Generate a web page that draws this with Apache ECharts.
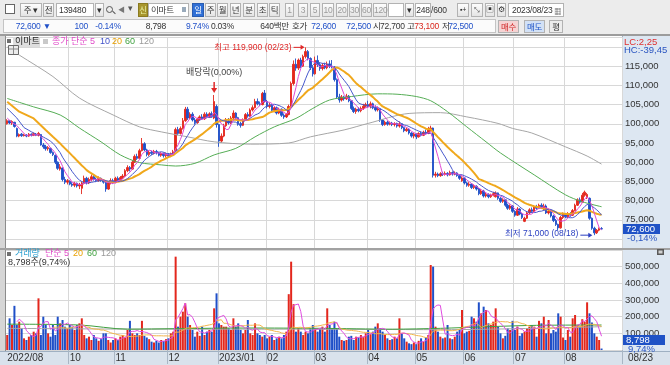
<!DOCTYPE html>
<html><head><meta charset="utf-8">
<script src="https://cdn.jsdelivr.net/npm/echarts@6/dist/echarts.min.js"></script>
<style>
body{margin:0;width:670px;height:365px;overflow:hidden;background:#ececec;position:relative;
 font-family:"Liberation Sans","Noto Sans CJK KR",sans-serif;}
.bg{position:absolute;}
#chart{position:absolute;left:0;top:0;width:670px;height:365px;z-index:1;}
#tb{position:absolute;left:0;top:0;width:670px;height:34px;z-index:2;font-size:8.5px;color:#333;letter-spacing:-0.2px;}
.b{position:absolute;top:3px;height:14px;box-sizing:border-box;border:1px solid #b2b2b2;
 background:linear-gradient(#fdfdfd,#e4e4e4);text-align:center;line-height:12px;white-space:nowrap;}
.w{background:#fff;}
.g{color:#9a9a9a;}
.t{position:absolute;top:20px;line-height:13px;white-space:nowrap;}
.r{text-align:right;}
.blue{color:#2050c8;}
.red{color:#d9261c;}
</style></head>
<body>
<div class="bg" style="left:0;top:34px;width:670px;height:2px;background:#9c9c9c"></div>
<div class="bg" style="left:0;top:36px;width:6px;height:315px;background:#d6d6d6;border-right:1px solid #8c8c8c;box-sizing:border-box"></div>
<div class="bg" style="left:6px;top:36px;width:616px;height:212px;background:#fff"></div>
<div class="bg" style="left:0;top:248px;width:670px;height:2px;background:#a2a2a2"></div>
<div class="bg" style="left:6px;top:250px;width:616px;height:101px;background:#fff"></div>
<div class="bg" style="left:622px;top:36px;width:48px;height:315px;background:#dde7f2;border-left:1px solid #9fb0c2;box-sizing:border-box"></div>
<div class="bg" style="left:622px;top:248px;width:48px;height:2px;background:#a2a2a2"></div>
<div class="bg" style="left:0;top:351px;width:670px;height:14px;background:#d9e2ec;border-top:1px solid #9fb0c2;box-sizing:border-box"></div>
<div id="chart"></div>
<div id="tb">
 <div class="b w" style="left:5px;top:4px;width:10px;height:10px;border-color:#666"></div>
 <div class="b" style="left:20px;width:22px">주 ▾</div>
 <div class="b" style="left:43px;width:11px">전</div>
 <div class="b w" style="left:56px;width:38px;text-align:left;padding-left:2px">139480</div>
 <div class="b" style="left:95px;width:9px">▾</div>
 <div style="position:absolute;left:106px;top:6px;width:5px;height:5px;border:1px solid #555;border-radius:50%"></div>
 <div style="position:absolute;left:112px;top:12px;width:4px;height:1px;background:#555;transform:rotate(45deg)"></div>
 <div style="position:absolute;left:118px;top:4px;color:#777;font-size:7px">◀</div>
 <div style="position:absolute;left:128px;top:3px;color:#555">▾</div>
 <div class="b" style="left:138px;width:10px;background:#a8962e;color:#e8f0a0;border-color:#8a7a20">신</div>
 <div class="b w" style="left:148px;width:41px;text-align:left;padding-left:2px">이마트<span style="position:absolute;right:2px;top:3px;width:4px;height:5px;background:#9ab"></span></div>
 <div class="b" style="left:192px;width:12px;background:#2f6fd6;color:#fff;border-color:#2a5cb0">일</div>
 <div class="b" style="left:205px;width:11px">주</div>
 <div class="b" style="left:217px;width:11px">월</div>
 <div class="b" style="left:230px;width:11px">년</div>
 <div class="b" style="left:243px;width:12px">분</div>
 <div class="b" style="left:257px;width:11px">초</div>
 <div class="b" style="left:269px;width:11px">틱</div>
 <div class="b g" style="left:285px;width:9px">1</div>
 <div class="b g" style="left:298px;width:10px">3</div>
 <div class="b g" style="left:310px;width:10px">5</div>
 <div class="b g" style="left:322px;width:12px">10</div>
 <div class="b g" style="left:336px;width:12px">20</div>
 <div class="b g" style="left:349px;width:11px">30</div>
 <div class="b g" style="left:361px;width:11px">60</div>
 <div class="b g" style="left:373px;width:14px">120</div>
 <div class="b w" style="left:388px;width:16px"></div>
 <div class="b" style="left:405px;width:9px">▾</div>
 <div class="b w" style="left:415px;width:16px">248</div>
 <div style="position:absolute;left:431px;top:3px;line-height:14px">/600</div>
 <div class="b" style="left:457px;width:12px;font-size:7px">▪+</div>
 <div class="b" style="left:471px;width:12px;font-size:7px">⤡</div>
 <div class="b" style="left:485px;width:10px;font-size:8px">▣</div>
 <div class="b" style="left:497px;width:9px;font-size:8px">⚙</div>
 <div class="b w" style="left:508px;width:56px;text-align:left;padding-left:3px">2023/08/23<span style="position:absolute;right:2px;top:2px;font-size:7px">▦</span></div>

 <div style="position:absolute;left:3px;top:19px;width:493px;height:14px;background:#fbfbfb;border:1px solid #c4c4c4;box-sizing:border-box"></div>
 <div class="t r blue" style="left:14px;width:37px">72,600 ▼</div>
 <div class="t r blue" style="left:70px;width:18px">100</div>
 <div class="t r blue" style="left:90px;width:31px">-0.14%</div>
 <div class="t r" style="left:138px;width:28px">8,798</div>
 <div class="t r blue" style="left:183px;width:26px">9.74%</div>
 <div class="t r" style="left:208px;width:26px">0.03%</div>
 <div class="t r" style="left:254px;width:35px">640백만</div>
 <div class="t" style="left:292px">호가</div>
 <div class="t r blue" style="left:308px;width:28px">72,600</div>
 <div class="t r blue" style="left:343px;width:28px">72,500</div>
 <div class="t" style="left:373px">시</div>
 <div class="t r" style="left:380px;width:23px">72,700</div>
 <div class="t" style="left:407px">고</div>
 <div class="t r red" style="left:414px;width:25px">73,100</div>
 <div class="t" style="left:442px">저</div>
 <div class="t r blue" style="left:448px;width:25px">72,500</div>
 <div class="b" style="left:498px;top:20px;height:13px;width:21px;background:#f6d3d3;color:#d02a2a">매수</div>
 <div class="b" style="left:524px;top:20px;height:13px;width:21px;background:#d2e1f6;color:#2358c8">매도</div>
 <div class="b" style="left:549px;top:20px;height:13px;width:14px;background:#ededed">평</div>
</div>
<script>
// ---------- data ----------
const firstDay = '2022-08-24', lastDay = '2023-08-23';
const holidays = ['2022-09-09','2022-09-12','2022-10-03','2022-10-10','2022-12-30','2023-01-23','2023-01-24',
  '2023-03-01','2023-05-01','2023-05-05','2023-05-29','2023-06-06','2023-08-15'];

const opens = [100000,100800,100200,100400,98800,96800,97300,96900,97000,96800,
97300,97000,97300,97000,97200,94500,94000,93500,93600,92500,
91800,90000,88200,88500,85500,84800,85000,84300,84000,84500,
83800,83200,84500,85800,84600,85500,86200,85600,85200,85800,
85300,84800,83000,84600,85200,84700,85800,85300,86000,86400,
87800,88600,88200,90000,91500,91000,93000,94800,93200,92000,
92600,92300,92800,92400,91800,92300,91700,92100,91600,92200,
93000,98500,97500,98800,100800,103800,101500,102500,101000,100300,
101200,101800,101300,102500,101800,102600,101500,104500,99800,95500,
96800,99500,100800,100200,101500,102800,101600,100000,99600,101000,
102400,102000,103600,104200,105800,105200,105000,108000,105800,104500,
104800,103500,104200,102800,103800,102200,101800,102400,104500,110500,
115500,114500,116600,115000,117500,118800,117000,114600,113000,116500,
115400,114400,115200,114600,115600,115000,114800,111500,107000,106200,
107000,106500,107200,106000,104000,103200,103800,103400,104000,104600,
105000,104600,105200,104200,103600,103900,101000,99800,100400,99900,
100200,99800,100100,99400,100000,99000,98200,98600,97600,96800,
97300,96600,97500,97000,97800,97500,98600,98900,86600,86900,
86500,87000,86800,87100,86700,87300,86900,87200,86500,85200,
85900,84600,84000,84300,83400,83700,83000,81800,82500,81200,
81600,81000,81400,81000,82000,80600,79800,80200,78800,78000,
78600,77200,76200,77800,76500,74600,75400,76800,77600,77200,
78400,78000,78800,77600,78600,76800,77200,76000,74800,73800,
72900,75600,76400,75800,76600,76200,77400,78800,80200,79600,
81400,80800,80600,75400,72800,71600,72300,72700];

const closes = [100800,100200,100600,99300,96800,97200,96900,97100,96800,97300,
97000,97400,97000,97500,94500,94000,93500,93800,92500,92000,
90000,88400,88800,85500,84800,85200,84300,84000,84500,83800,
84200,84600,85800,84600,85500,86200,85600,85200,85800,85300,
84800,83000,84600,85200,84700,85800,85300,86000,86400,87800,
88600,88200,90000,91500,91000,93000,94800,93200,92000,92600,
92300,92800,92400,91800,92300,91700,92100,91600,92200,92700,
98500,97500,98800,100800,103800,101500,102500,101000,100300,101200,
101800,101300,102500,101800,102600,102000,105800,99800,95500,96800,
99500,100800,100200,101500,102800,101600,100000,99600,101000,102400,
102000,103600,104200,105800,105200,105000,107900,105800,104500,104800,
103500,104200,102800,103800,102200,101800,102400,104500,110500,115500,
114500,116600,115000,117500,118800,117000,114600,113000,116500,115400,
114400,115200,114600,115600,115000,114800,111500,107000,106200,107000,
106500,107200,106000,104000,103200,103800,103400,104000,104600,105000,
104600,105200,104200,103600,103900,101000,99800,100400,99900,100200,
99800,100100,99400,100000,99000,98200,98600,97600,96800,97300,
96600,97500,97000,97800,97500,98600,98900,86600,86900,86500,
87000,86800,87100,86700,87300,86900,87200,86500,85800,85900,
84600,84000,84300,83400,83700,83000,81800,82500,81200,81600,
81000,81400,81800,82000,80600,79800,80200,78800,78000,78600,
77200,76200,77800,76500,75600,75400,76800,77600,77200,78400,
78000,78800,78200,78600,76800,77200,76000,74800,73800,72900,
75600,76400,75800,76600,76200,77400,78800,80200,79600,81400,
82200,81600,75400,72800,71600,72300,72700,72600];

const highs = [101200,101000,100900,100500,99000,97500,97600,97400,97300,97600,
97500,97700,97600,97900,97300,95000,94500,94200,93800,92800,
92000,90200,89500,88600,86200,85600,85300,84800,84900,84700,
84600,85000,86500,86200,86000,86800,86600,86000,86300,86000,
85600,85000,85000,85800,85700,86200,86300,86400,86900,88200,
89200,89000,90500,92000,92200,93500,96300,95200,93500,93000,
93000,93200,93200,92700,92600,92500,92500,92400,92500,93200,
99000,99200,99300,101500,104400,104400,103000,103000,101500,101600,
102200,102500,103000,103000,103000,103200,107500,105000,100000,97500,
100000,101500,101500,102000,103500,103000,101800,100500,101400,102800,
103000,104000,104800,106500,106600,105800,108300,108800,106200,105500,
105000,104600,104500,104200,104000,102700,102800,105000,111000,116500,
117000,117000,117200,118000,119900,119200,117300,115000,117500,117800,
116000,115800,115900,116200,116500,116600,115000,111800,107800,107500,
107300,107800,107500,106200,104500,104200,104300,104500,105200,105500,
106000,105800,105500,104800,104500,104000,101200,100800,100800,100600,
100500,100400,100300,100600,100100,99200,99000,98800,97800,97600,
97500,97800,98000,98200,98500,99200,99500,99000,87500,87300,
87400,87500,87600,87400,87800,87600,87600,87400,86700,86300,
86000,84900,84800,84500,84200,84000,83300,83000,82800,82000,
81900,81800,82300,82400,82100,80900,80600,80300,79200,79000,
78800,77500,78300,78000,76800,75800,77200,78000,78200,78800,
78900,79200,79300,79200,79000,77600,77400,76300,75200,74000,
76000,76900,76800,77000,77000,77800,79200,80600,80800,82000,
82600,82000,80800,75600,73200,72600,73000,73100];

const lows = [99800,99900,99700,99000,96500,96500,96600,96700,96500,96600,
96700,96800,96800,96700,94300,93500,93000,93000,92200,91600,
89500,88000,87800,85000,84300,84200,84000,83600,83500,83400,
83000,81700,84200,84200,84300,85000,85200,84800,84900,84900,
84400,82300,82800,84200,84300,84500,85000,85000,85600,86200,
87400,87600,88000,89800,90600,90800,92800,92900,91500,91600,
91900,92000,92000,91500,91400,91200,91200,91200,91300,91900,
92800,97000,97200,98500,100500,101000,101200,100600,99800,100000,
100800,101000,101000,101400,101500,101600,101200,99000,94000,95000,
96500,99200,99800,99900,101200,101200,99500,99000,99400,100800,
101600,101800,103200,104000,104800,104600,104800,105500,104000,104000,
103000,103000,102400,102500,101800,101300,101500,102200,104200,110000,
113800,114000,114500,114800,117000,116500,114000,112300,112800,114800,
113800,113900,114200,114200,114500,114400,111000,106500,105500,105800,
106000,106200,105600,103600,102800,102600,103000,103000,103600,104200,
104200,104000,103800,103200,103200,100500,99400,99500,99500,99600,
99400,99300,99000,99000,98600,97800,97900,97200,96400,96200,
96000,96400,96700,96800,97200,97300,98000,86000,86000,86100,
86200,86400,86500,86300,86500,86500,86600,86200,85400,84900,
84200,83600,83600,83000,83000,82600,81400,81500,80800,80800,
80600,80700,81100,80800,80200,79400,79400,78400,77600,77600,
76800,75800,76000,76200,75200,74400,75200,76500,76800,77000,
77600,77800,77800,77400,76500,76400,75600,74400,73400,72300,
72700,75200,75400,75500,75800,76000,77200,78600,79200,79400,
81000,80400,75000,72400,71000,71300,72000,72500];

const volumes = [90000,190000,150000,265000,150000,170000,130000,70000,60000,80000,
90000,110000,100000,310000,90000,200000,150000,100000,80000,150000,
90000,200000,160000,180000,140000,130000,150000,140000,120000,150000,
160000,190000,90000,70000,80000,60000,90000,70000,55000,65000,
100000,100000,60000,45000,60000,70000,60000,80000,90000,75000,
120000,175000,100000,90000,100000,90000,175000,85000,75000,65000,
50000,45000,55000,45000,60000,55000,65000,70000,100000,110000,
560000,140000,200000,230000,280000,200000,150000,120000,80000,110000,
85000,140000,90000,110000,120000,110000,250000,340000,160000,150000,
140000,140000,130000,120000,190000,140000,160000,120000,100000,120000,
180000,100000,90000,160000,100000,90000,80000,90000,70000,80000,
90000,60000,70000,80000,70000,90000,110000,335000,530000,275000,
110000,130000,110000,90000,110000,100000,130000,150000,130000,110000,
130000,140000,110000,250000,150000,130000,170000,130000,80000,60000,
55000,60000,80000,85000,60000,80000,75000,90000,80000,100000,
120000,95000,110000,140000,160000,130000,110000,90000,70000,60000,
65000,80000,70000,190000,100000,70000,50000,40000,35000,45000,
35000,55000,70000,50000,75000,90000,510000,500000,140000,110000,
80000,70000,75000,150000,70000,65000,80000,110000,120000,240000,
100000,110000,115000,200000,190000,170000,286000,220000,260000,240000,
160000,150000,170000,250000,140000,100000,70000,85000,130000,120000,
175000,120000,140000,85000,100000,110000,130000,140000,150000,140000,
80000,175000,160000,200000,100000,180000,100000,120000,110000,220000,
200000,75000,60000,120000,80000,190000,210000,150000,140000,185000,
170000,286000,220000,165000,100000,80000,60000,8798];

// moving averages read from the picture where the chart's own history is not shown: [bar index, value]
const ma5Lead = [[0,101500],[2,100300]];
const ma10Lead = [[0,104000],[4,101500],[7,99000]];
const ma20Lead = [[0,105750],[5,103150],[11,101400],[16,98400]];
const ma60Read = [[0,106600],[11,104400],[22,102300],[30,98900],[39,95300],[47,91900],[55,89900],[64,89300],[70,89000],
 [78,89700],[86,91900],[95,93600],[103,96600],[111,99200],[120,101400],[127,104000],[134,106200],[143,107100],[154,107800],
 [162,107700],[170,107100],[176,106000],[183,103150],[191,99200],[199,95300],[205,92400],[219,86700],[232,81500],[239,79700],[247,78400]];
const ma120Read = [[0,120000],[5,117900],[19,112300],[30,106700],[44,102300],[55,99200],[64,97900],[75,96600],[86,95300],
 [101,94700],[117,95000],[126,96600],[140,98400],[150,100100],[167,102700],[180,102900],[191,101800],[204,100100],
 [210,98800],[218,97600],[232,94000],[241,91600],[247,89500]];
const volMa60Read = [[0,155000],[30,150000],[50,125000],[70,128000],[100,132000],[130,130000],[160,125000],[180,130000],[200,140000],[220,148000],[247,150000]];
const volMa120Read = [[0,130000],[60,125000],[120,125000],[180,122000],[220,130000],[247,140000]];
const priceTickStep = 5000, volTickStep = 100000;

// ---------- derived ----------
const dates = [];
for (let d = new Date(firstDay + 'T00:00:00Z'); d <= new Date(lastDay + 'T00:00:00Z'); d.setUTCDate(d.getUTCDate() + 1)) {
  const s = d.toISOString().slice(0, 10), wd = d.getUTCDay();
  if (wd === 0 || wd === 6 || holidays.includes(s)) continue;
  dates.push(s);
}
const N = closes.length;
const NBAND = 256;
function sma(arr, n, lead) {
  const out = lead.slice();
  for (let i = n - 1; i < arr.length; i++) {
    let s = 0; for (let k = i - n + 1; k <= i; k++) s += arr[k];
    out.push([i, Math.round(s / n)]);
  }
  return out;
}
const ma5 = sma(closes, 5, ma5Lead), ma10 = sma(closes, 10, ma10Lead), ma20 = sma(closes, 20, ma20Lead);
const vma5 = sma(volumes, 5, []), vma20 = sma(volumes, 20, []);

const monthStart = {};
let lastShown = -100;
for (let i = 0; i < dates.length; i++) {
  if (i === 0 || dates[i].slice(5, 7) !== dates[i - 1].slice(5, 7)) {
    if (i - lastShown >= 12) { monthStart[i] = true; lastShown = i; }
  }
}
const gridFn = (i) => !!monthStart[i] && i > 0;
const labelFn = (i) => !!monthStart[i];
const fmtDate = (v, i) => {
  if (!v) return '';
  const y = v.slice(0, 4), m = v.slice(5, 7);
  return (i === 0 || m === '01') ? y + '/' + m : m;
};
const fmtNum = (v) => Math.round(v).toLocaleString('en-US');

const UP = '#e3271d', DN = '#1f4fc8';
const FONT = '"Liberation Sans","Noto Sans CJK KR",sans-serif';
const AXF = '"Liberation Sans","Noto Sans CJK KR",sans-serif';

function lineS(data, color, width, xi, yi, smooth) {
  return { type: 'line', xAxisIndex: xi, yAxisIndex: yi, data: data, showSymbol: false, symbol: 'none',
    smooth: smooth ? 0.3 : false, lineStyle: { color: color, width: width }, z: 3, silent: true };
}

const chart = echarts.init(document.getElementById('chart'), null, { renderer: 'canvas', width: 670, height: 365 });
const splitStyle = { color: '#d8d8d8', width: 1 };
const option = {
  animation: false,
  backgroundColor: 'transparent',
  grid: [
    { left: 6, top: 37, width: 616, height: 211 },
    { left: 6, top: 37, width: 616, height: 202 },
    { left: 6, top: 250, width: 616, height: 100 }
  ],
  xAxis: [
    { type: 'category', gridIndex: 0, data: dates, max: NBAND - 1, axisLine: { show: false }, axisTick: { show: false },
      axisLabel: { show: false }, splitLine: { show: true, interval: gridFn, lineStyle: splitStyle } },
    { type: 'category', gridIndex: 1, data: dates, max: NBAND - 1, axisLine: { show: false }, axisTick: { show: false },
      axisLabel: { show: false }, splitLine: { show: false } },
    { type: 'category', gridIndex: 2, data: dates, max: NBAND - 1, axisLine: { show: false },
      axisTick: { show: true, interval: gridFn, length: 14, lineStyle: { color: '#a9b6c4' } },
      axisLabel: { show: true, interval: labelFn, formatter: fmtDate, align: 'left', margin: 3, color: '#333',
        fontSize: 10, fontFamily: AXF },
      splitLine: { show: true, interval: gridFn, lineStyle: splitStyle } }
  ],
  yAxis: [
    { type: 'value', gridIndex: 0, min: 0, max: 1, show: false, splitLine: { show: false } },
    { type: 'value', gridIndex: 1, position: 'right', min: 70000, max: 122600, interval: priceTickStep,
      axisLine: { show: false }, axisTick: { show: false },
      axisLabel: { showMinLabel: false, showMaxLabel: false, formatter: (v) => v >= 120000 ? '' : fmtNum(v),
        color: '#333', fontSize: 9.5, fontFamily: AXF, margin: 3 },
      splitLine: { show: true, lineStyle: splitStyle } },
    { type: 'value', gridIndex: 2, position: 'right', min: 0, max: 600000, interval: volTickStep,
      axisLine: { show: false }, axisTick: { show: false },
      axisLabel: { showMinLabel: false, showMaxLabel: false, formatter: fmtNum, color: '#333', fontSize: 9.5, fontFamily: AXF, margin: 3 },
      splitLine: { show: true, lineStyle: splitStyle } }
  ],
  series: [
    { type: 'candlestick', xAxisIndex: 1, yAxisIndex: 1, barWidth: 2,
      data: opens.map((o, i) => [o, closes[i], lows[i], highs[i]]),
      itemStyle: { color: UP, color0: DN, borderColor: UP, borderColor0: DN, borderWidth: 0.9 }, z: 2 },
    lineS(ma120Read, '#a6a6a6', 1, 1, 1, true),
    lineS(ma60Read, '#55ad55', 1, 1, 1, true),
    lineS(ma20, '#f0a81c', 2, 1, 1, false),
    lineS(ma10, '#4658cc', 1, 1, 1, false),
    lineS(ma5, '#df4ad4', 1, 1, 1, false),
    { type: 'bar', xAxisIndex: 2, yAxisIndex: 2, barWidth: 2,
      data: volumes.map((v, i) => ({ value: v, itemStyle: { color: closes[i] >= opens[i] ? UP : DN } })), z: 2 },
    lineS(volMa120Read, '#a6a6a6', 1, 2, 2, true),
    lineS(volMa60Read, '#3f9f3f', 1, 2, 2, true),
    lineS(vma20, '#f2b54a', 1, 2, 2, false),
    lineS(vma5, '#e04ce0', 1, 2, 2, false)
  ]
};
chart.setOption(option);

// ---------- annotations (positions from the chart's own scales) ----------
function txt(x, y, text, color, size, align, fam) {
  return { type: 'text', x: x, y: y, z: 20, silent: true,
    style: { text: text, fill: color, font: (size || 9) + 'px ' + (fam || FONT),
      align: align || 'left', textAlign: align || 'left', verticalAlign: 'middle', textVerticalAlign: 'middle' } };
}
function rect(x, y, w, h, fill, stroke) {
  return { type: 'rect', z: 19, silent: true, shape: { x: x, y: y, width: w, height: h },
    style: { fill: fill, stroke: stroke || null, lineWidth: stroke ? 1 : 0 } };
}
function seg(x1, y1, x2, y2, color, w) {
  return { type: 'line', z: 20, silent: true, shape: { x1: x1, y1: y1, x2: x2, y2: y2 }, style: { stroke: color, lineWidth: w || 1 } };
}
function tri(pts, color) {
  return { type: 'polygon', z: 20, silent: true, shape: { points: pts }, style: { fill: color } };
}
const g = [];
let iMax = 0, iMin = 0;
for (let i = 0; i < N; i++) { if (highs[i] > highs[iMax]) iMax = i; if (lows[i] < lows[iMin]) iMin = i; }
const mmdd = (s) => s.slice(5, 7) + '/' + s.slice(8, 10);
const pMax = chart.convertToPixel({ gridIndex: 1 }, [iMax, highs[iMax]]);
g.push(txt(pMax[0] - 14, pMax[1], '최고 ' + fmtNum(highs[iMax]) + ' (' + mmdd(dates[iMax]) + ')', '#e02828', 8.5, 'right'));
g.push(seg(pMax[0] - 12, pMax[1], pMax[0] - 4, pMax[1], '#e02828', 1));
g.push(tri([[pMax[0] - 5, pMax[1] - 2.5], [pMax[0] - 5, pMax[1] + 2.5], [pMax[0] - 1, pMax[1]]], '#e02828'));

const pMin = chart.convertToPixel({ gridIndex: 1 }, [iMin, lows[iMin]]);
g.push(txt(pMin[0] - 16, pMin[1] - 2, '최저 ' + fmtNum(lows[iMin]) + ' (' + mmdd(dates[iMin]) + ')', '#2a3fc0', 8.5, 'right'));
g.push(seg(pMin[0] - 14, pMin[1], pMin[0] - 5, pMin[1], '#2a3fc0', 1));
g.push(tri([[pMin[0] - 6, pMin[1] - 2.5], [pMin[0] - 6, pMin[1] + 2.5], [pMin[0] - 2, pMin[1]]], '#2a3fc0'));

const iDiv = dates.indexOf('2022-12-28');
const pDiv = chart.convertToPixel({ gridIndex: 1 }, [iDiv, highs[iDiv]]);
g.push(txt(pDiv[0], pDiv[1] - 22, '배당락(0,00%)', '#444', 9, 'center'));
g.push(seg(pDiv[0], pDiv[1] - 13, pDiv[0], pDiv[1] - 6, '#e02828', 1.5));
g.push(tri([[pDiv[0] - 3, pDiv[1] - 7], [pDiv[0] + 3, pDiv[1] - 7], [pDiv[0], pDiv[1] - 2]], '#e02828'));

// panel headers
g.push(rect(7, 39, 4, 4, '#6f6f6f'));
g.push(rect(13, 37, 27, 10, '#dedede'));
g.push(txt(15, 42, '이마트', '#222', 9));
g.push(rect(43, 39, 5, 5, '#c9c9c9'));
g.push(txt(52, 42, '종가 단순 5', '#e04ac8', 9));
g.push(txt(100, 42, '10', '#4050c8', 9));
g.push(txt(112, 42, '20', '#e9a000', 9));
g.push(txt(125, 42, '60', '#3fa03f', 9));
g.push(txt(139, 42, '120', '#999', 9));
g.push(rect(8.5, 45.5, 10, 9, '#ececec', '#6a6a6a'));
g.push(seg(9, 49, 18, 49, '#8a8a8a', 1));
g.push(seg(13.5, 46, 13.5, 54, '#8a8a8a', 1));

g.push(rect(7, 252, 4, 4, '#6f6f6f'));
g.push(txt(15, 254, '거래량', '#2a9fd0', 9));
g.push(txt(45, 254, '단순 5', '#e04ac8', 9));
g.push(txt(73, 254, '20', '#e9a000', 9));
g.push(txt(87, 254, '60', '#3fa03f', 9));
g.push(txt(101, 254, '120', '#999', 9));
g.push(txt(8, 263, fmtNum(volumes[N - 1]) + '주(9,74%)', '#333', 9));

// right panel
g.push(txt(624, 42, 'LC:2,25', '#e03030', 9.5, 'left', AXF));
g.push(txt(624, 50, 'HC:-39,45', '#2a55c0', 9.5, 'left', AXF));
const pCur = chart.convertToPixel({ gridIndex: 1 }, [N - 1, closes[N - 1]]);
g.push(rect(623, pCur[1] - 5, 37, 10, '#1f52c6'));
g.push(txt(626, pCur[1], fmtNum(closes[N - 1]), '#fff', 9.5, 'left', AXF));
const chg = (closes[N - 1] - closes[N - 2]) / closes[N - 2] * 100;
g.push(txt(627, pCur[1] + 9, chg.toFixed(2).replace('.', ',') + '%', '#2a55c0', 9.5, 'left', AXF));
const pVol = chart.convertToPixel({ gridIndex: 2 }, [N - 1, volumes[N - 1]]);
const vy = Math.min(pVol[1], 340);
g.push(rect(623, vy - 5, 42, 10, '#1f52c6'));
g.push(txt(626, vy, fmtNum(volumes[N - 1]), '#fff', 9.5, 'left', AXF));
g.push(txt(628, vy + 9, '9,74%', '#2a55c0', 9.5, 'left', AXF));
g.push(rect(657, 249, 7, 6, '#5a5a5a'));
g.push(rect(658.5, 250.5, 4, 3, '#d0d0d0'));
g.push(txt(628, 358, mmdd(dates[N - 1]), '#333', 10, 'left', AXF));

chart.setOption({ graphic: { elements: g } });
</script>
</body></html>
